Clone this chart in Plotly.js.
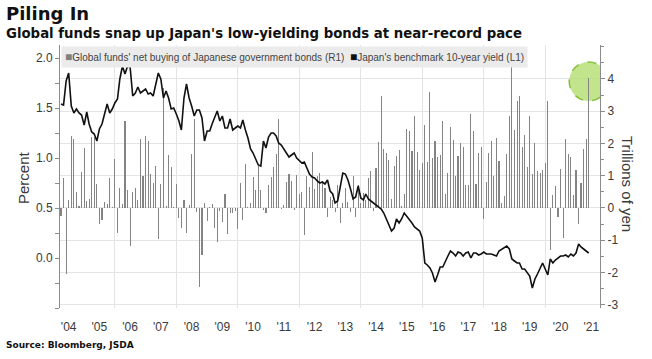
<!DOCTYPE html>
<html>
<head>
<meta charset="utf-8">
<script src="https://cdn.plot.ly/plotly-3.0.1.min.js"></script>
<style>
  html, body { margin: 0; padding: 0; background: #fff; }
  #chart { width: 652px; height: 359px; }
</style>
</head>
<body>
<div id="chart"></div>
<script>
// Monthly data, April 2004 .. June 2021
const startYear = 2004;
const startMonth = 4;

// Global funds' net buying of JGBs, trillions of yen (right axis)
const netBuying = [
  -0.25, 0.93, -2.04, 0.26, 2.24, 2.15, 0.5, 0.05, 1.12, 1.86, 0.22, 0.28,
  2.2, 2.2, 0.73, -0.51, -0.38, 0.18, 0.11, 0.92, 0.03, 1.53, -0.79, 0.62,
  0.13, 2.7, 0.57, -1.18, 0.5, 0.62, 0.26, 2.14, 1.0, 2.24, 2.07, 1.04,
  0.76, 1.29, -0.95, 0.73, 3.72, 0.06, 1.63, 1.27, 0.03, 0.73, -0.31, -0.61,
  0.26, -0.77, 0.08, 1.66, 2.76, -0.12, -2.45, -1.46, 0.16, -0.41, 0.03, 0.13,
  -0.61, -1.05, -0.1, -0.44, 0.42, -0.81, -0.15, -0.15, -0.1, -0.64, 0.78, -0.36,
  1.35, 0.02, 0.16, 0.95, 0.57, 1.29, 0.55, -0.07, -0.17, 0.7, 0.96, 1.27,
  1.68, 2.77, -0.02, 0.08, 0.82, 1.04, 0.83, -0.07, 1.02, 0.44, 0.49, -0.84,
  0.99, 0.66, 1.74, 0.59, 1.0, 1.07, 0.78, 0.62, -0.28, 0.35, 0.26, -0.13,
  0.7, -0.48, 0.14, 0.62, 0.18, -0.13, 0.99, -0.27, 0.7, 0.16, 0.47, 0.26,
  0.93, 1.14, -0.1, 1.24, 2.04, 3.46, 1.84, 1.71, 1.5, 0.28, 1.29, 1.6,
  1.81, 0.06, 0.42, 2.45, 2.38, 1.75, 2.86, 1.73, 1.19, 1.4, 2.57, 1.42,
  3.6, 1.55, 2.07, 1.58, 1.63, 2.69, 0.42, 1.09, 2.5, 2.1, 1.0, 1.6,
  2.0, 1.88, 0.7, 0.7, 2.9, 2.38, 0.73, 1.71, 1.89, -0.34, 0.81, 1.69,
  2.07, 0.99, 2.17, 1.47, 0.14, 0.37, 1.66, 2.86, 4.39, 2.43, 3.31, 3.46,
  1.89, 2.27, 1.27, 2.86, 1.04, 2.02, 1.14, 1.07, 1.19, 1.38, 3.31, -1.31,
  0.39, 0.68, -0.27, 1.22, -0.92, 2.15, 1.66, 1.58, 0.4, 1.19, -0.51, 0.76,
  1.83, 2.15, 4.03
];

// Japan's benchmark 10-year yield, percent (left axis)
const yield10y = [
  1.54, 1.53, 1.77, 1.85, 1.52, 1.45, 1.49, 1.45, 1.43, 1.33, 1.46, 1.34,
  1.26, 1.24, 1.17, 1.29, 1.34, 1.44, 1.54, 1.45, 1.49, 1.55, 1.59, 1.79,
  1.92, 1.84, 1.92, 1.91, 1.62, 1.65, 1.71, 1.65, 1.67, 1.69, 1.64, 1.65,
  1.62, 1.74, 1.85, 1.79, 1.60, 1.67, 1.60, 1.49, 1.50, 1.44, 1.37, 1.28,
  1.60, 1.74, 1.60, 1.52, 1.42, 1.48, 1.48, 1.40, 1.17, 1.27, 1.27, 1.34,
  1.41, 1.47, 1.37, 1.42, 1.30, 1.30, 1.39, 1.28, 1.30, 1.32, 1.30, 1.38,
  1.28, 1.20, 1.09, 1.05, 0.99, 0.93, 0.92, 1.17, 1.10, 1.21, 1.25, 1.25,
  1.22, 1.15, 1.13, 1.09, 1.04, 1.01, 1.03, 1.05, 1.00, 0.97, 0.95, 0.96,
  0.89, 0.84, 0.81, 0.80, 0.77, 0.75, 0.76, 0.74, 0.78, 0.67, 0.64, 0.55,
  0.57, 0.72, 0.85, 0.84, 0.78, 0.69, 0.59, 0.61, 0.72, 0.60, 0.58, 0.64,
  0.59, 0.57, 0.55, 0.53, 0.51, 0.49, 0.45, 0.39, 0.33, 0.27, 0.30, 0.39,
  0.35, 0.39, 0.45, 0.42, 0.39, 0.35, 0.31, 0.29, 0.27, 0.20, -0.05, -0.07,
  -0.10, -0.15, -0.24, -0.17, -0.09, -0.09, -0.03, 0.02, 0.07, 0.05, 0.02, 0.06,
  0.05, 0.02, 0.05, 0.06, 0.00, 0.05, 0.05, 0.03, 0.04, 0.06, 0.04, 0.04,
  0.04, 0.03, 0.02, 0.07, 0.09, 0.11, 0.12, 0.09, -0.01, -0.03, -0.05, -0.05,
  -0.11, -0.11, -0.15, -0.18, -0.30, -0.21, -0.16, -0.10, -0.05, -0.11, -0.17, -0.01,
  -0.05, -0.02, 0.00, 0.02, 0.02, 0.03, 0.01, 0.04, 0.02, 0.05, 0.14, 0.11,
  0.09, 0.07, 0.05
];

// Axis tick labels
const yearTickYears = [2004,2005,2006,2007,2008,2009,2010,2011,2012,2013,2014,2015,2016,2017,2018,2019,2020,2021];
const yearTickText = ["'04","'05","'06","'07","'08","'09","'10","'11","'12","'13","'14","'15","'16","'17","'18","'19","'20","'21"];
const leftTickVals = [0, 0.5, 1.0, 1.5, 2.0];
const leftTickText = ['0.0', '0.5', '1.0', '1.5', '2.0'];
const rightTickVals = [-3, -2, -1, 0, 1, 2, 3, 4];
const rightTickText = ['-3', '-2', '-1', '0', '1', '2', '3', '4'];

// Build month dates
const months = netBuying.map((_, i) => {
  const m0 = (startMonth - 1) + i;
  const y = startYear + Math.floor(m0 / 12);
  const m = (m0 % 12) + 1;
  return y + '-' + String(m).padStart(2, '0') + '-01';
});
const yearTickVals = yearTickYears.map(y => y + '-07-01');

const FONT = 'Liberation Sans, Arial, sans-serif';
const BOLD = 'DejaVu Sans, Verdana, sans-serif';
const TXT = '#3a3a3a';

const traces = [
  {
    type: 'bar', x: months, y: netBuying, yaxis: 'y',
    marker: { color: '#848484', line: { width: 0 } },
    width: 13 * 86400000,
    showlegend: false, hoverinfo: 'skip'
  },
  {
    type: 'scatter', mode: 'lines', x: months, y: yield10y, yaxis: 'y2',
    line: { color: '#111111', width: 1.6 },
    showlegend: false, hoverinfo: 'skip'
  }
];

const L = 60, R = 600, T = 45, B = 308;
const pxX = px => (px - L) / (R - L);
const pxY = py => (B - py) / (B - T);

const lastIdx = netBuying.length - 1;

const layout = {
  width: 652, height: 359,
  margin: { l: L, r: 652 - R, t: T, b: 359 - B, pad: 0 },
  paper_bgcolor: '#ffffff', plot_bgcolor: '#ffffff',
  showlegend: false,
  bargap: 0,
  font: { family: FONT, color: TXT, size: 12 },
  xaxis: {
    type: 'date',
    range: ['2004-03-20', '2021-10-13'],
    tickmode: 'array', tickvals: yearTickVals, ticktext: yearTickText,
    showgrid: false, zeroline: false, showline: false,
    ticks: 'outside', ticklen: 8, tickcolor: 'rgba(0,0,0,0)',
    tickfont: { family: FONT, size: 12, color: TXT },
    minor: { tick0: '2006-01-01', dtick: 'M24', showgrid: true, gridcolor: '#e4e4e4', gridwidth: 1, ticks: '' },
    fixedrange: true
  },
  yaxis: {
    side: 'right',
    range: [-3.1, 5.05],
    tickmode: 'array', tickvals: rightTickVals, ticktext: rightTickText,
    showgrid: true, gridcolor: '#e4e4e4', gridwidth: 1,
    zeroline: false,
    showline: true, linecolor: '#8c8c8c', linewidth: 1,
    ticks: 'outside', ticklen: 4, tickcolor: '#8c8c8c',
    tickfont: { family: FONT, size: 12, color: TXT },
    minor: { tickmode: 'linear', tick0: 0, dtick: 0.5, ticks: 'outside', ticklen: 3, tickcolor: '#8c8c8c', showgrid: false },
    fixedrange: true
  },
  yaxis2: {
    side: 'left', overlaying: 'y',
    range: [-0.5, 2.13],
    tickmode: 'array', tickvals: leftTickVals, ticktext: leftTickText,
    showgrid: false, zeroline: false,
    showline: true, linecolor: '#8c8c8c', linewidth: 1,
    ticks: 'outside', ticklen: 4, tickcolor: '#8c8c8c',
    tickfont: { family: FONT, size: 12, color: TXT },
    minor: { tickmode: 'linear', tick0: 0, dtick: 0.25, ticks: 'outside', ticklen: 4, tickcolor: '#8c8c8c', showgrid: false },
    fixedrange: true
  },
  shapes: [
    {
      type: 'circle', xref: 'x', yref: 'y',
      xsizemode: 'pixel', ysizemode: 'pixel',
      xanchor: months[lastIdx], yanchor: netBuying[lastIdx],
      x0: -19.5, x1: 19.5, y0: -23, y1: 16,
      fillcolor: 'rgba(176,220,108,0.78)',
      line: { color: '#86bf3a', width: 1.5, dash: 'dash' },
      layer: 'between'
    }
  ],
  annotations: [
    {
      text: 'Piling In', xref: 'paper', yref: 'paper',
      x: pxX(4), y: pxY(14), xanchor: 'left', yanchor: 'middle', showarrow: false,
      font: { family: BOLD, size: 18, color: '#111', weight: 'bold' }
    },
    {
      text: "Global funds snap up Japan's low-yielding bonds at near-record pace", xref: 'paper', yref: 'paper',
      x: pxX(4), y: pxY(34), xanchor: 'left', yanchor: 'middle', showarrow: false,
      font: { family: BOLD, size: 13.3, color: '#111', weight: 'bold' }
    },
    {
      text: '<span style="color:#808080;font-size:12px">■</span>Global funds\' net buying of Japanese government bonds (R1)  <span style="color:#111;font-size:12px">■</span>Japan\'s benchmark 10-year yield (L1)',
      xref: 'paper', yref: 'paper',
      x: pxX(61), y: pxY(46), xanchor: 'left', yanchor: 'top', showarrow: false,
      bgcolor: '#ebebeb', borderpad: 3,
      font: { family: FONT, size: 10, color: '#444' }
    },
    {
      text: 'Percent', xref: 'paper', yref: 'paper',
      x: pxX(23), y: pxY(178), xanchor: 'center', yanchor: 'middle', showarrow: false,
      textangle: -90,
      font: { family: FONT, size: 15, color: TXT }
    },
    {
      text: 'Trillions of yen', xref: 'paper', yref: 'paper',
      x: pxX(628), y: pxY(184), xanchor: 'center', yanchor: 'middle', showarrow: false,
      textangle: 90,
      font: { family: FONT, size: 15, color: TXT }
    },
    {
      text: 'Source: Bloomberg, JSDA', xref: 'paper', yref: 'paper',
      x: pxX(4), y: pxY(345), xanchor: 'left', yanchor: 'middle', showarrow: false,
      font: { family: BOLD, size: 9, color: '#111', weight: 'bold' }
    }
  ]
};

Plotly.newPlot('chart', traces, layout, { staticPlot: true, displayModeBar: false });
</script>
</body>
</html>
